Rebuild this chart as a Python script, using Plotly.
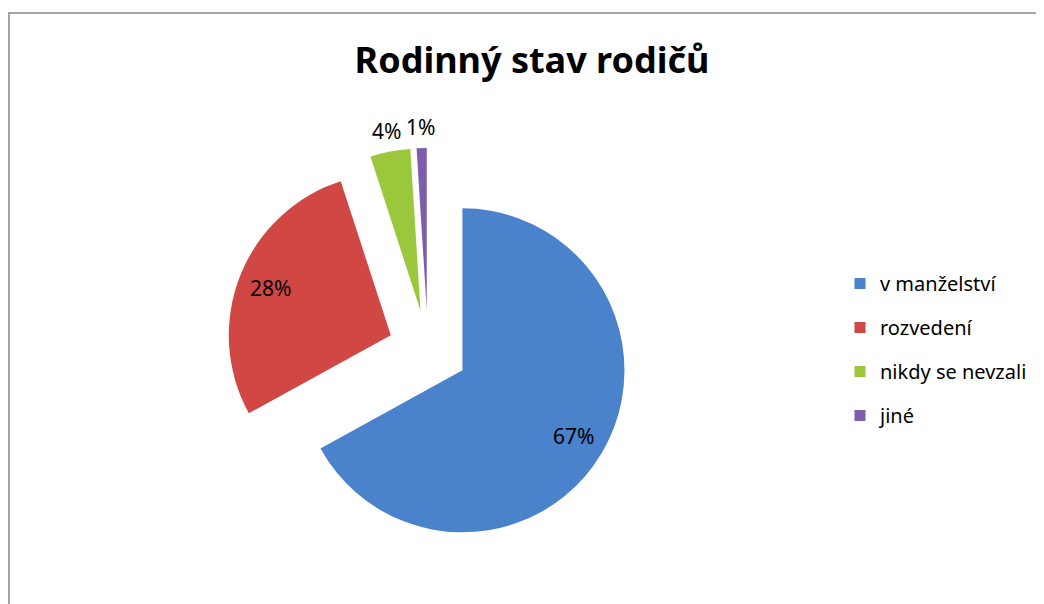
"""Kolacovy graf: Rodinny stav rodicu."""

import math

import plotly.graph_objects as go

# Data
categories = ["v manželství", "rozvedení", "nikdy se nevzali", "jiné"]
values = [67, 28, 4, 1]
colors = ["#4A82CB", "#D04743", "#9BC73D", "#7E5DAD"]
label_inside = [True, True, False, False]

W, H = 1044, 604
FONT = "Noto Sans"

# Prevod pozic na strance (px) na souradnice papiru (okraj body 8 px)
OFF = 8


def px(x):
    return (x - OFF) / W


def py(y):
    return 1 - (y - OFF) / H


# Geometrie kolace (stranka, px)
CX, CY, R = 428, 350, 162
PULL = 0.247
HALF = R * (1 + PULL)

fig = go.Figure()

fig.add_trace(
    go.Pie(
        labels=categories,
        values=values,
        sort=False,
        direction="clockwise",
        rotation=0,
        pull=[PULL] * len(values),
        marker=dict(colors=colors, line=dict(width=0)),
        textinfo="none",
        domain=dict(x=[px(CX - HALF), px(CX + HALF)], y=[py(CY + HALF), py(CY - HALF)]),
        showlegend=False,
        hoverinfo="label+percent",
    )
)

# Popisky procent - stred vysece podle hodnot
total = sum(values)
cum = 0
for val, inside in zip(values, label_inside):
    mid = math.radians((cum + val / 2) / total * 360)
    cum += val
    vx = CX + PULL * R * math.sin(mid)
    vy = CY - PULL * R * math.cos(mid)
    dist = 0.8 * R if inside else 1.13 * R
    lx = vx + dist * math.sin(mid)
    ly = vy - dist * math.cos(mid)
    fig.add_annotation(
        x=px(lx),
        y=py(ly),
        xref="paper",
        yref="paper",
        xanchor="center",
        yanchor="middle",
        text=f"{round(val / total * 100)}%",
        showarrow=False,
        font=dict(family=FONT, size=21, color="black"),
    )

# Legenda - pomocne stopy se ctvercovymi znackami
for i, (cat, col) in enumerate(zip(categories, colors)):
    fig.add_trace(
        go.Scatter(
            x=[None],
            y=[None],
            mode="markers",
            name=cat,
            legendgroup=f"g{i}",
            marker=dict(symbol="square", size=11, color=col),
        )
    )

fig.update_layout(
    width=W,
    height=H,
    margin=dict(l=0, r=0, t=0, b=0),
    paper_bgcolor="white",
    plot_bgcolor="white",
    title=dict(
        text="<b>Rodinný stav rodičů</b>",
        x=px(532),
        y=py(60),
        xanchor="center",
        yanchor="middle",
        font=dict(family=FONT, size=36, color="black"),
    ),
    xaxis=dict(visible=False),
    yaxis=dict(visible=False),
    legend=dict(
        x=px(840),
        y=py(264),
        xanchor="left",
        yanchor="top",
        font=dict(family=FONT, size=20, color="black"),
        tracegroupgap=15,
        bgcolor="rgba(0,0,0,0)",
    ),
    shapes=[
        dict(
            type="rect",
            xref="paper",
            yref="paper",
            x0=px(9),
            x1=1.05,
            y0=-0.05,
            y1=py(13),
            line=dict(color="#a3a3a3", width=2),
            layer="below",
        )
    ],
)

fig.write_html("out.html")
